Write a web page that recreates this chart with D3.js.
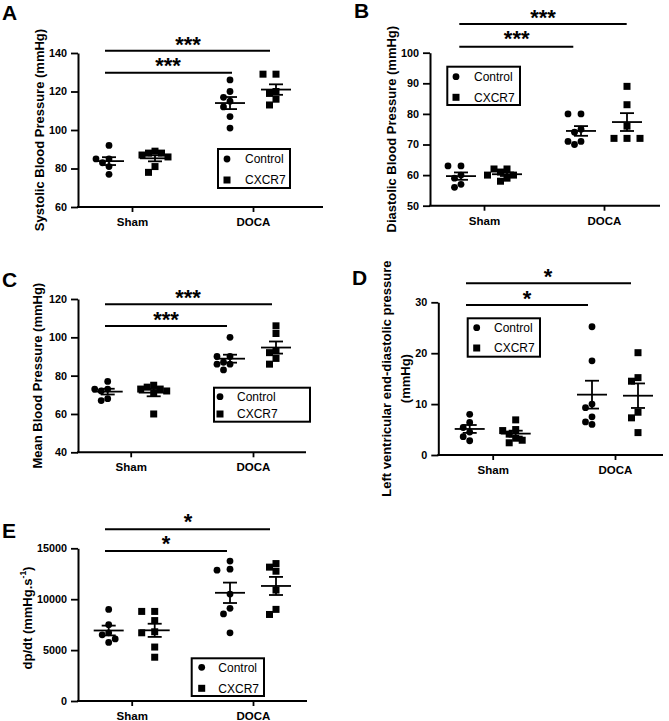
<!DOCTYPE html>
<html><head><meta charset="utf-8">
<script src="https://cdn.jsdelivr.net/npm/d3@7"></script>
<style>
body{margin:0;background:#fff}
svg{display:block}
text{font-family:Arial,"Liberation Sans",Helvetica,sans-serif;fill:#000}
</style>
</head><body>
<svg id="chart" width="669" height="721"></svg>
<script>
// ---------- DATA ----------
const groups = ["Sham", "DOCA"];
const seriesNames = ["Control", "CXCR7"];

// A: Systolic blood pressure (mmHg)
const sbpShamControl = [92, 85, 85, 83, 81, 77];
const sbpShamCXCR7   = [88, 89, 88, 87, 86, 81, 78];
const sbpDocaControl = [126, 120, 117, 115, 112, 107, 101];
const sbpDocaCXCR7   = [129, 129, 120, 119, 116, 113];
const sbpTicks = [60, 80, 100, 120, 140];

// B: Diastolic blood pressure (mmHg)
const dbpShamControl = [63, 63, 60, 59, 57, 56];
const dbpShamCXCR7   = [62, 62, 61, 60, 60, 59, 58];
const dbpDocaControl = [80, 80, 75, 74, 71, 71, 70];
const dbpDocaCXCR7   = [89, 83, 76, 72, 72, 72];
const dbpTicks = [50, 60, 70, 80, 90, 100];

// C: Mean blood pressure (mmHg)
const mbpShamControl = [77, 73, 73, 72, 68, 67];
const mbpShamCXCR7   = [75, 74, 73, 73, 72, 71, 60];
const mbpDocaControl = [100, 90, 90, 87, 86, 86, 83];
const mbpDocaCXCR7   = [106, 102, 93, 92, 89, 86];
const mbpTicks = [40, 60, 80, 100, 120];

// D: LV end-diastolic pressure (mmHg)
const lvedpShamControl = [8.0, 6.4, 5.4, 4.5, 3.6, 2.8];
const lvedpShamCXCR7   = [6.9, 5.0, 4.8, 4.1, 3.3, 2.9, 2.4];
const lvedpDocaControl = [25.2, 18.5, 10.0, 9.3, 7.5, 6.5, 6.0];
const lvedpDocaCXCR7   = [20.1, 15.2, 14.5, 8.4, 7.3, 4.4];
const lvedpTicks = [0, 10, 20, 30];

// E: dp/dt (mmHg.s-1)
const dpdtShamControl = [9000, 7500, 6700, 6500, 6100, 5750];
const dpdtShamCXCR7   = [8800, 8800, 7900, 6700, 6800, 5300, 4300];
const dpdtDocaControl = [13750, 12850, 12950, 10500, 9100, 8550, 6700];
const dpdtDocaCXCR7   = [13500, 13150, 12750, 10900, 9000, 8500];
const dpdtTicks = [0, 5000, 10000, 15000];

// ---------- PANELS (layout) ----------
const panels = [
  { letter:"A", lx:2, ly:20, ylabel:["Systolic Blood Pressure (mmHg)"], ylabX:[39],
    series:[[sbpShamControl,sbpShamCXCR7],[sbpDocaControl,sbpDocaCXCR7]], ticks:sbpTicks,
    ax:78, yTop:53, yBot:207, xEnd:323, gx:[132,253], stars:"***",
    sig:[{y:50.7,x1:105,x2:270,sx:188,sy:41},{y:72.7,x1:105,x2:232,sx:168,sy:62}],
    leg:{x:218,y:149,w:72,h:39,mx:227,r1:159,r2:180,tx:245} },
  { letter:"B", lx:354, ly:18, ylabel:["Diastolic Blood Pressure (mmHg)"], ylabX:[391.7],
    series:[[dbpShamControl,dbpShamCXCR7],[dbpDocaControl,dbpDocaCXCR7]], ticks:dbpTicks,
    ax:430, yTop:52.7, yBot:205.7, xEnd:660, gx:[484,604], stars:"***",
    sig:[{y:24,x1:459.3,x2:626.7,sx:543,sy:14},{y:46.7,x1:459.3,x2:573.3,sx:516.7,sy:35}],
    leg:{x:447.3,y:66.7,w:72.7,h:38.3,mx:456,r1:76.7,r2:97.3,tx:474} },
  { letter:"C", lx:2, ly:287, ylabel:["Mean Blood Pressure (mmHg)"], ylabX:[37.3],
    series:[[mbpShamControl,mbpShamCXCR7],[mbpDocaControl,mbpDocaCXCR7]], ticks:mbpTicks,
    ax:78, yTop:299, yBot:452.3, xEnd:306, gx:[130.7,253], stars:"***",
    sig:[{y:304.3,x1:105,x2:272,sx:188,sy:294},{y:326,x1:105,x2:227,sx:166,sy:316}],
    leg:{x:214,y:387.7,w:96,h:34,mx:220,r1:396.7,r2:414,tx:237} },
  { letter:"D", lx:352, ly:285, ylabel:["Left ventricular end-diastolic pressure","(mmHg)"], ylabX:[386.7,405],
    series:[[lvedpShamControl,lvedpShamCXCR7],[lvedpDocaControl,lvedpDocaCXCR7]], ticks:lvedpTicks,
    ax:438.3, yTop:302.3, yBot:455, xEnd:663, gx:[492.7,615], stars:"*",
    sig:[{y:283.3,x1:466,x2:631,sx:548,sy:273},{y:305,x1:466,x2:588,sx:527,sy:295}],
    leg:{x:467.7,y:318.3,w:72.3,h:38.4,mx:476.7,r1:327.7,r2:348,tx:494} },
  { letter:"E", lx:2, ly:538, ylabel:null, ylabX:[27],
    series:[[dpdtShamControl,dpdtShamCXCR7],[dpdtDocaControl,dpdtDocaCXCR7]], ticks:dpdtTicks,
    ax:78, yTop:548.3, yBot:701, xEnd:307, gx:[131.7,253], stars:"*",
    sig:[{y:529.3,x1:105,x2:270,sx:188,sy:518},{y:551,x1:105,x2:227,sx:166,sy:540}],
    leg:{x:191.7,y:658.3,w:72.3,h:37.7,mx:201.7,r1:667.3,r2:688.3,tx:218.3} }
];

const svg = d3.select("#chart");
const R = 3.4, SQ = 7, STEP = 6.5, OFF = 23;
const LABEL_FS = 13;

function swarm(vals, y, cx) {
  const pts = vals.map(v => ({v, y:y(v)})).sort((a,b) => a.y - b.y);
  const placed = [];
  const cand = [0,-1,1,-2,2,-3,3];
  pts.forEach(p => {
    p.x = cx;
    for (const k of cand) {
      const x = cx + k*STEP;
      if (placed.every(q => Math.hypot(q.x - x, q.y - p.y) >= 6.6)) { p.x = x; break; }
    }
    placed.push(p);
  });
  return placed;
}

function marker(g, kind, x, y) {
  if (kind === 0) g.append("circle").attr("cx",x).attr("cy",y).attr("r",R).attr("fill","#000");
  else g.append("rect").attr("x",x-SQ/2).attr("y",y-SQ/2).attr("width",SQ).attr("height",SQ).attr("fill","#000");
}

panels.forEach(p => {
  const g = svg.append("g");
  const y = d3.scaleLinear().domain([p.ticks[0], p.ticks[p.ticks.length-1]]).range([p.yBot, p.yTop]);
  const x = d3.scalePoint().domain(groups).range(p.gx);

  // panel letter
  g.append("text").attr("x",p.lx).attr("y",p.ly).attr("font-size",21).attr("font-weight","bold").text(p.letter);

  // y axis
  const ya = g.append("g").attr("transform",`translate(${p.ax},0)`)
    .call(d3.axisLeft(y).tickValues(p.ticks).tickFormat(d3.format("d")).tickSize(7).tickSizeOuter(0).tickPadding(4));
  ya.select(".domain").attr("stroke","#000").attr("stroke-width",2);
  ya.selectAll(".tick line").attr("stroke","#000").attr("stroke-width",1.8);
  ya.selectAll(".tick text").attr("font-size",10.8).attr("font-weight","bold")
    .attr("font-family","Arial, 'Liberation Sans', sans-serif").attr("fill","#000");

  // x axis
  g.append("line").attr("x1",p.ax-1).attr("x2",p.xEnd).attr("y1",p.yBot).attr("y2",p.yBot)
    .attr("stroke","#000").attr("stroke-width",2);
  const xa = g.append("g").attr("transform",`translate(0,${p.yBot})`)
    .call(d3.axisBottom(x).tickSize(5).tickSizeOuter(0).tickPadding(6));
  xa.select(".domain").remove();
  xa.selectAll(".tick line").attr("stroke","#000").attr("stroke-width",1.8);
  xa.selectAll(".tick text").attr("font-size",11.5).attr("font-weight","bold")
    .attr("font-family","Arial, 'Liberation Sans', sans-serif").attr("fill","#000");

  // y label
  if (p.ylabel) {
    p.ylabel.forEach((t,i) => {
      g.append("text").attr("transform",`translate(${p.ylabX[i]},${(p.yTop+p.yBot)/2}) rotate(-90)`)
        .attr("text-anchor","middle").attr("dy","0.35em").attr("font-size",LABEL_FS).attr("font-weight","bold").text(t);
    });
  } else {
    const t = g.append("text").attr("transform",`translate(${p.ylabX[0]},618) rotate(-90)`)
      .attr("text-anchor","middle").attr("dy","0.35em").attr("font-size",LABEL_FS).attr("font-weight","bold");
    t.append("tspan").text("dp/dt (mmHg.s");
    t.append("tspan").attr("font-size",8.5).attr("dy","-0.6em").text("-1");
    t.append("tspan").attr("dy","0.45em").text(")");
  }

  // data
  groups.forEach((grp, gi) => {
    p.series[gi].forEach((vals, si) => {
      const cx = x(grp) + (si === 0 ? -OFF : OFF);
      swarm(vals, y, cx).forEach(pt => marker(g, si, pt.x, pt.y));
      const m = d3.mean(vals), se = d3.deviation(vals)/Math.sqrt(vals.length);
      const lg = g.append("g").attr("stroke","#000").attr("stroke-width",1.8);
      lg.append("line").attr("x1",cx-15).attr("x2",cx+15).attr("y1",y(m)).attr("y2",y(m));
      lg.append("line").attr("x1",cx).attr("x2",cx).attr("y1",y(m-se)).attr("y2",y(m+se));
      lg.append("line").attr("x1",cx-7).attr("x2",cx+7).attr("y1",y(m-se)).attr("y2",y(m-se));
      lg.append("line").attr("x1",cx-7).attr("x2",cx+7).attr("y1",y(m+se)).attr("y2",y(m+se));
    });
  });

  // significance bars
  p.sig.forEach(s => {
    g.append("line").attr("x1",s.x1).attr("x2",s.x2).attr("y1",s.y).attr("y2",s.y)
      .attr("stroke","#000").attr("stroke-width",2);
    g.append("text").attr("x",s.sx).attr("y",s.sy+11).attr("text-anchor","middle")
      .attr("font-size",22).attr("font-weight","bold").text(p.stars);
  });

  // legend
  const L = p.leg;
  g.append("rect").attr("x",L.x).attr("y",L.y).attr("width",L.w).attr("height",L.h)
    .attr("fill","#fff").attr("stroke","#000").attr("stroke-width",2);
  marker(g, 0, L.mx, L.r1);
  marker(g, 1, L.mx, L.r2);
  g.append("text").attr("x",L.tx).attr("y",L.r1).attr("dy","0.35em").attr("font-size",12).text(seriesNames[0]);
  g.append("text").attr("x",L.tx).attr("y",L.r2).attr("dy","0.35em").attr("font-size",12).text(seriesNames[1]);
});
</script>
</body></html>
